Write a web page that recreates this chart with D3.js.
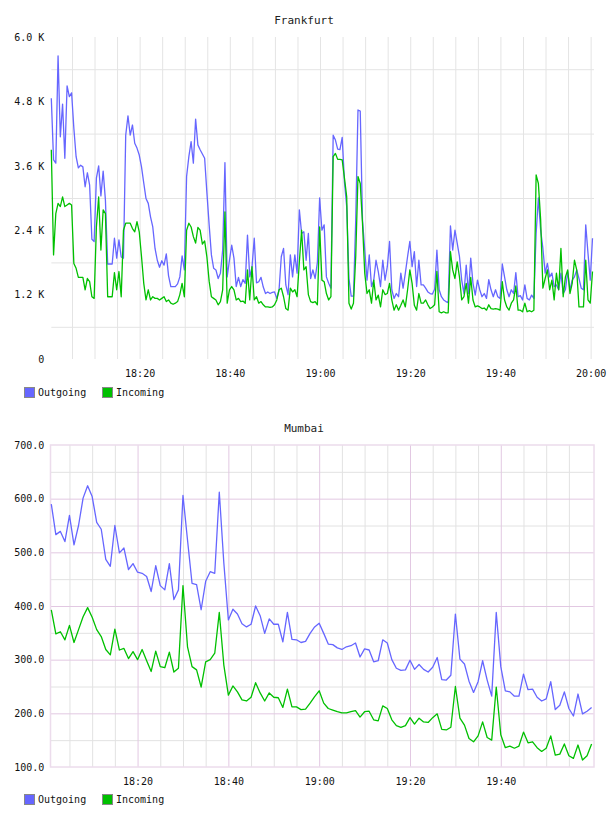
<!DOCTYPE html>
<html>
<head>
<meta charset="utf-8">
<style>
  body { margin: 0; background: #fff; }
  text { font-family: "DejaVu Sans Mono", monospace; }
</style>
</head>
<body>
<svg width="608" height="816"></svg>
<script src="https://d3js.org/d3.v7.min.js"></script>
<script>
// data
var seriesNames = ['Outgoing', 'Incoming'];
var seriesColors = ['#6666ff', '#00c000'];

// Frankfurt: one sample every 30 s
var frankfurtStart = '18:00:25';
var frankfurtStepSec = 30;
var frankfurtOutgoing = [
  4860, 3710, 3650, 5650, 4140, 4750, 3740, 5090, 4890, 4960,
  4300, 3770, 3560, 3610, 3580, 3210, 3470, 3240, 2230, 2190,
  3370, 3600, 3040, 3500, 2960, 1770, 1770, 1770, 2250, 1880,
  2220, 1900, 1880, 4170, 4530, 4170, 4360, 4020, 3930, 3800,
  3580, 3280, 2990, 2900, 2650, 2460, 2060, 1840, 1710, 1830,
  1750, 1960, 1550, 1350, 1350, 1350, 1400, 1530, 1920, 1660,
  3400, 3770, 4050, 3650, 4470, 3990, 3900, 3820, 3740, 3100,
  2500, 1940, 1690, 1660, 1500, 1600, 2030, 3660, 1530, 1840,
  2120, 1880, 1350, 1520, 1350, 1480, 1410, 2310, 1530, 1710,
  2250, 1420, 1440, 1520, 1340, 1220, 1250, 1220, 1240, 1250,
  1130, 1290, 1910, 2060, 1380, 1200, 1940, 1530, 1940, 1600,
  2780, 2340, 2370, 1840, 2340, 1500, 1660, 1500, 1800, 3000,
  2400, 2500, 1530, 1410, 1320, 4170, 4080, 3910, 3900, 4130,
  3300, 2840, 1500, 1170, 1170, 2590, 4640, 4620, 2600, 2030,
  1470, 1940, 1350, 1470, 1840, 1630, 1350, 1840, 1470, 1720,
  2190, 1290, 1130, 1220, 1160, 1600, 1320, 1600, 1910, 2190,
  1720, 2000, 1350, 1840, 1380, 1380, 1320, 1250, 1220, 1210,
  1300, 2030, 1290, 1160, 1100, 1070, 1050, 2480, 2030, 2400,
  2160, 1910, 1470, 1220, 1750, 1220, 1880, 1410, 1190, 1470,
  1290, 1160, 1220, 1130, 1480, 1290, 1160, 1290, 1160, 1130,
  1770, 1530, 1290, 1160, 1290, 1220, 1610, 1160, 1180, 1100,
  1380, 1130, 1100, 1190, 1130, 2340, 3000, 2400, 2060, 1600,
  1780, 1530, 1600, 1350, 1380, 1290, 1600, 1220, 1290, 1630,
  1290, 1470, 1530, 1660, 1500, 1320, 1290, 2500, 1970, 1470,
  2250
];
var frankfurtIncoming = [
  3900, 1940, 2710, 2900, 2840, 3020, 2840, 2870, 2900, 2870,
  1780, 1690, 1520, 1520, 1520, 1290, 1500, 1440, 1160, 1130,
  2460, 3020, 2030, 2780, 2710, 1160, 1160, 1160, 1610, 1290,
  1630, 1160, 2400, 2530, 2530, 2530, 2430, 2370, 2560, 2370,
  1910, 1410, 1100, 1290, 1100, 1160, 1130, 1130, 1100, 1130,
  1160, 1070, 1100, 1040, 1020, 1040, 1070, 1200, 1410, 1160,
  2400, 2530, 2460, 2280, 2160, 2450, 2400, 2140, 2200, 1900,
  1450, 1160, 1130, 1100, 1010, 1070, 1290, 2740, 1040, 1290,
  1350, 1290, 1100, 1130, 1070, 1080, 1040, 1660, 1100, 1720,
  1100, 1160, 1040, 1070, 1010, 970, 970, 960, 970, 1010,
  1100, 1290, 1320, 1160, 940, 910, 1320, 1250, 1290, 1160,
  1810, 2400, 1660, 1720, 1200, 1070, 1050, 1070, 1010, 2460,
  1470, 1440, 1220, 1100, 1160, 3770, 3830, 3720, 3720, 3710,
  3370, 3020, 1040, 930, 1040, 1910, 3400, 3270, 2530, 1600,
  1220, 1290, 1040, 1470, 1100, 1190, 970, 1290, 1200, 1220,
  1410, 1100, 910, 1010, 910, 1000, 1100, 970, 1290, 1660,
  1410, 1000, 910, 1220, 1040, 1040, 1100, 1010, 940, 970,
  1010, 1630, 880, 860, 880, 860, 860, 2000, 1660, 1500,
  1810, 1530, 1100, 1160, 1410, 1040, 1520, 1100, 970, 990,
  970, 940, 950, 910, 1010, 940, 930, 940, 930, 910,
  1440, 1100, 970, 910, 1040, 1100, 1360, 910, 910, 880,
  1040, 880, 900, 880, 910, 3430, 3270, 2600, 1320, 1500,
  1660, 1290, 1470, 1100, 1600, 1290, 2060, 1160, 1530, 1660,
  1220, 1410, 1840, 1660, 970, 970, 970, 1840, 1100, 1040,
  1630
];
var frankfurtYTicks = [0, 1200, 2400, 3600, 4800, 6000];
var frankfurtYGrid = [600, 1800, 3000, 4200, 5400];
var frankfurtXTicks = ['18:20', '18:40', '19:00', '19:20', '19:40', '20:00'];

// Mumbai: one sample per minute
var mumbaiStart = '18:01:00';
var mumbaiStepSec = 60;
var mumbaiOutgoing = [
  590, 533, 539, 520, 569, 514, 550, 601, 624, 604,
  556, 543, 487, 474, 550, 499, 508, 468, 479, 463,
  461, 455, 427, 475, 438, 430, 479, 412, 430, 606,
  523, 442, 440, 393, 446, 464, 461, 612, 480, 374,
  394, 385, 367, 361, 366, 400, 382, 349, 376, 366,
  366, 333, 388, 338, 337, 332, 334, 349, 361, 368,
  349, 329, 328, 322, 319, 324, 326, 331, 305, 320,
  318, 296, 298, 337, 331, 300, 284, 280, 281, 299,
  282, 291, 282, 277, 286, 304, 263, 262, 271, 385,
  301, 292, 260, 239, 259, 298, 262, 232, 388, 287,
  242, 240, 232, 232, 273, 244, 245, 230, 223, 227,
  259, 207, 215, 240, 209, 195, 236, 199, 204, 211
];
var mumbaiIncoming = [
  393, 348, 352, 337, 364, 332, 356, 380, 397, 379,
  356, 343, 319, 309, 357, 318, 321, 302, 315, 300,
  319, 298, 278, 316, 287, 285, 314, 277, 284, 438,
  324, 287, 281, 249, 296, 300, 312, 388, 290, 234,
  251, 240, 225, 223, 230, 257, 238, 223, 238, 230,
  229, 211, 245, 212, 212, 207, 208, 219, 231, 242,
  219, 209, 206, 203, 201, 201, 203, 205, 193, 203,
  204, 188, 186, 214, 209, 188, 177, 174, 177, 192,
  180, 191, 184, 183, 192, 199, 170, 169, 174, 250,
  191, 178, 153, 147, 158, 184, 155, 150, 249, 160,
  136, 139, 135, 139, 165, 145, 147, 136, 129, 135,
  158, 122, 124, 143, 121, 116, 141, 113, 121, 143
];
var mumbaiYTicks = [100, 200, 300, 400, 500, 600, 700];
var mumbaiYMinor = [150, 250, 350, 450, 550, 650];
var mumbaiXTicks = ['18:20', '18:40', '19:00', '19:20', '19:40'];

var svg = d3.select('svg');
var parseClock = d3.timeParse('%H:%M:%S');
var parseHM = d3.timeParse('%H:%M');

function makeTimes(start, stepSec, n) {
  var t0 = parseClock(start);
  return d3.range(n).map(function (i) { return d3.timeSecond.offset(t0, i * stepSec); });
}

function cleanAxis(sel) {
  sel.select('.domain').remove();
  sel.selectAll('text').attr('fill', '#111').attr('font-size', 10)
    .attr('font-family', '"DejaVu Sans Mono", monospace');
}

function drawLines(g, times, series, x, y) {
  var line = d3.line()
    .x(function (d, i) { return x(times[i]); })
    .y(function (d) { return y(d); });
  series.forEach(function (vals, k) {
    g.append('path')
      .datum(vals)
      .attr('fill', 'none')
      .attr('stroke', seriesColors[k])
      .attr('stroke-width', 1.3)
      .attr('stroke-linejoin', 'round')
      .attr('d', line);
  });
}

function drawLegend(yTop) {
  var lg = svg.append('g').attr('transform', 'translate(24,' + yTop + ')');
  var items = lg.selectAll('g').data(seriesNames).enter().append('g')
    .attr('transform', function (d, i) { return 'translate(' + (i * 78) + ',0)'; });
  items.append('rect')
    .attr('x', 0.5).attr('y', 0.5).attr('width', 10).attr('height', 10)
    .attr('fill', function (d, i) { return seriesColors[i]; })
    .attr('stroke', '#888');
  items.append('text')
    .attr('x', 14).attr('y', 9)
    .attr('font-size', 10).attr('fill', '#111')
    .text(function (d) { return d; });
}

function drawTitle(text, y) {
  svg.append('text')
    .attr('x', 304).attr('y', y)
    .attr('text-anchor', 'middle')
    .attr('font-size', 11).attr('fill', '#222')
    .text(text);
}

// ---------- Frankfurt ----------
(function () {
  var times = makeTimes(frankfurtStart, frankfurtStepSec, frankfurtOutgoing.length);
  var left = 51.3, right = 592.5, top = 37, bottom = 359;
  var x = d3.scaleTime().domain(d3.extent(times)).range([left, right]);
  var y = d3.scaleLinear().domain([0, 6000]).range([bottom, top]);
  var g = svg.append('g');

  drawTitle('Frankfurt', 24);

  var grid5 = d3.timeMinute.every(5).range(times[0], times[times.length - 1]);
  g.append('g')
    .attr('transform', 'translate(0,' + bottom + ')')
    .call(d3.axisBottom(x).tickValues(grid5).tickSize(-(bottom - top)).tickFormat(''))
    .call(cleanAxis)
    .selectAll('line').attr('stroke', '#e4e4e4');

  g.append('g')
    .attr('transform', 'translate(' + left + ',0)')
    .call(d3.axisLeft(y).tickValues(frankfurtYGrid).tickSize(-(594 - left)).tickFormat(''))
    .call(cleanAxis)
    .selectAll('line').attr('stroke', '#e4e4e4');

  drawLines(g, times, [frankfurtOutgoing, frankfurtIncoming], x, y);

  g.append('g')
    .attr('transform', 'translate(' + left + ',0)')
    .call(d3.axisLeft(y).tickValues(frankfurtYTicks).tickSize(0).tickPadding(7)
      .tickFormat(function (v) { return v === 0 ? '0' : (v / 1000).toFixed(1) + ' K'; }))
    .call(cleanAxis);

  g.append('g')
    .attr('transform', 'translate(0,' + bottom + ')')
    .call(d3.axisBottom(x).tickValues(frankfurtXTicks.map(parseHM).map(function (t) {
      return d3.timeMinute.offset(d3.timeDay.floor(times[0]), t.getHours() * 60 + t.getMinutes());
    })).tickSize(0).tickPadding(11).tickFormat(d3.timeFormat('%H:%M')))
    .call(cleanAxis);

  drawLegend(387);
})();

// ---------- Mumbai ----------
(function () {
  var times = makeTimes(mumbaiStart, mumbaiStepSec, mumbaiOutgoing.length);
  var left = 51.3, right = 591.6, top = 445, bottom = 767;
  var frameL = 50.5, frameR = 594;
  var x = d3.scaleTime().domain(d3.extent(times)).range([left, right]);
  var y = d3.scaleLinear().domain([100, 700]).range([bottom, top]);
  var g = svg.append('g');

  drawTitle('Mumbai', 432);

  var majorTimes = mumbaiXTicks.map(function (s) {
    var t = parseHM(s);
    return d3.timeMinute.offset(d3.timeDay.floor(times[0]), t.getHours() * 60 + t.getMinutes());
  });
  var minorTimes = d3.timeMinute.every(5).range(times[0], times[times.length - 1])
    .filter(function (t) { return t.getMinutes() % 20 !== 0; });

  g.append('g')
    .attr('transform', 'translate(0,' + bottom + ')')
    .call(d3.axisBottom(x).tickValues(minorTimes).tickSize(-(bottom - top)).tickFormat(''))
    .call(cleanAxis)
    .selectAll('line').attr('stroke', '#e2e2e2');

  g.append('g')
    .attr('transform', 'translate(' + frameL + ',0)')
    .call(d3.axisLeft(y).tickValues(mumbaiYMinor).tickSize(-(frameR - frameL)).tickFormat(''))
    .call(cleanAxis)
    .selectAll('line').attr('stroke', '#e2e2e2');

  g.append('g')
    .attr('transform', 'translate(0,' + bottom + ')')
    .call(d3.axisBottom(x).tickValues(majorTimes).tickSize(-(bottom - top)).tickFormat(''))
    .call(cleanAxis)
    .selectAll('line').attr('stroke', '#e2c8e2');

  g.append('g')
    .attr('transform', 'translate(' + frameL + ',0)')
    .call(d3.axisLeft(y).tickValues(mumbaiYTicks.slice(1, -1)).tickSize(-(frameR - frameL)).tickFormat(''))
    .call(cleanAxis)
    .selectAll('line').attr('stroke', '#e2c8e2');

  g.append('rect')
    .attr('x', frameL).attr('y', top)
    .attr('width', frameR - frameL).attr('height', bottom - top)
    .attr('fill', 'none').attr('stroke', '#ecdcec').attr('stroke-width', 1.5);

  drawLines(g, times, [mumbaiOutgoing, mumbaiIncoming], x, y);

  g.append('g')
    .attr('transform', 'translate(' + left + ',0)')
    .call(d3.axisLeft(y).tickValues(mumbaiYTicks).tickSize(0).tickPadding(7)
      .tickFormat(function (v) { return v.toFixed(1); }))
    .call(cleanAxis);

  g.append('g')
    .attr('transform', 'translate(0,' + bottom + ')')
    .call(d3.axisBottom(x).tickValues(majorTimes).tickSize(0).tickPadding(11)
      .tickFormat(d3.timeFormat('%H:%M')))
    .call(cleanAxis);

  drawLegend(794);
})();
</script>
</body>
</html>
